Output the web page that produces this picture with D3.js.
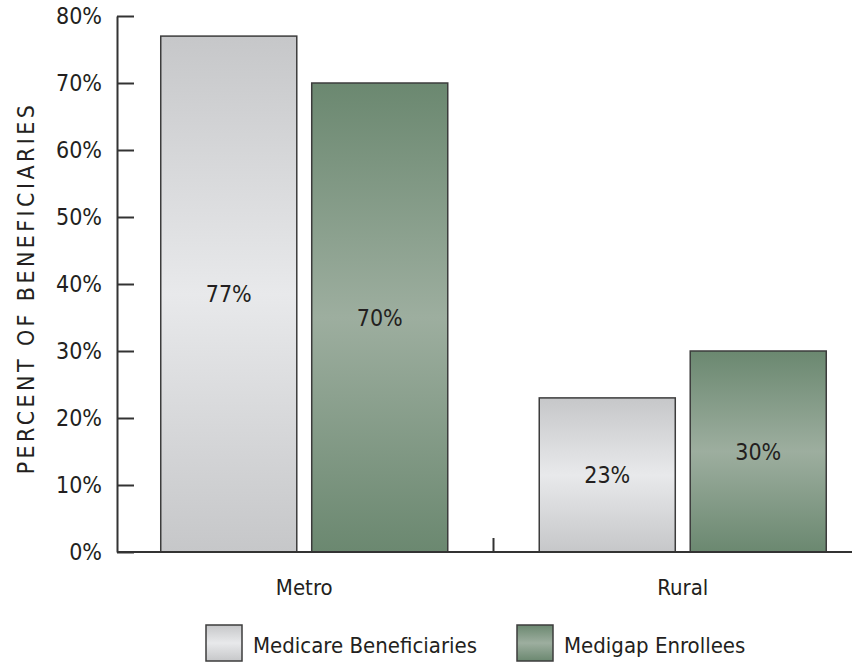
<!DOCTYPE html>
<html>
<head>
<meta charset="utf-8">
<script src="https://cdn.jsdelivr.net/npm/d3@7"></script>
<style>
  body { margin: 0; background: #fff; }
  svg text { font-family: "DejaVu Sans Condensed", "DejaVu Sans", sans-serif; font-stretch: condensed; fill: #231f20; }
</style>
</head>
<body>
<div id="chart"></div>
<script>
const categories = ["Metro", "Rural"];
const series = ["Medicare Beneficiaries", "Medigap Enrollees"];
const medicare = [77, 23];
const medigap = [70, 30];
const yTicks = [0, 10, 20, 30, 40, 50, 60, 70, 80];

const width = 864, height = 662;
const svg = d3.select("#chart").append("svg")
    .attr("width", width).attr("height", height);

const defs = svg.append("defs");
function grad(id, edge, mid) {
    const g = defs.append("linearGradient").attr("id", id)
        .attr("x1", 0).attr("y1", 0).attr("x2", 0).attr("y2", 1);
    g.append("stop").attr("offset", "0%").attr("stop-color", edge);
    g.append("stop").attr("offset", "50%").attr("stop-color", mid);
    g.append("stop").attr("offset", "100%").attr("stop-color", edge);
}
grad("g0", "#c6c7c9", "#e8e9eb");
grad("g1", "#6b8870", "#9dae9f");
const fills = ["url(#g0)", "url(#g1)"];

const y = d3.scaleLinear().domain([0, 80]).range([552, 16]);
const x0 = d3.scaleBand().domain(categories).range([115, 872]);
const x1 = d3.scaleBand().domain(series).range([0, x0.bandwidth()])
    .paddingInner(0.099).paddingOuter(0.303);

const rows = categories.map((c, i) => ({ cat: c, vals: [medicare[i], medigap[i]] }));

// bars
const grp = svg.append("g").selectAll("g").data(rows).join("g")
    .attr("transform", d => `translate(${x0(d.cat)},0)`);
grp.selectAll("rect").data(d => d.vals.map((v, j) => ({ v, s: series[j], j })))
    .join("rect")
    .attr("x", d => x1(d.s))
    .attr("y", d => y(d.v))
    .attr("width", x1.bandwidth())
    .attr("height", d => y(0) - y(d.v))
    .attr("fill", d => fills[d.j])
    .attr("stroke", "#3c3c3c").attr("stroke-width", 1.5);
grp.selectAll("text").data(d => d.vals.map((v, j) => ({ v, s: series[j] })))
    .join("text")
    .attr("x", d => x1(d.s) + x1.bandwidth() / 2)
    .attr("y", d => (y(d.v) + y(0)) / 2)
    .attr("dy", "0.36em")
    .attr("text-anchor", "middle")
    .style("font-size", "23px")
    .text(d => d.v + "%");

// y axis
const yAxis = svg.append("g").attr("transform", "translate(117,0)")
    .call(d3.axisLeft(y).tickValues(yTicks).tickFormat(d => d + "%")
        .tickSize(-17).tickSizeOuter(0).tickPadding(15));
yAxis.selectAll("path, line").attr("stroke", "#333").attr("stroke-width", 2);
yAxis.selectAll("text").style("font-size", "23px").attr("fill", "#231f20");

// baseline + divider
svg.append("line").attr("x1", 117).attr("x2", 852)
    .attr("y1", y(0)).attr("y2", y(0))
    .attr("stroke", "#333").attr("stroke-width", 2);
svg.append("line")
    .attr("x1", x0("Rural")).attr("x2", x0("Rural"))
    .attr("y1", y(0)).attr("y2", y(0) - 14)
    .attr("stroke", "#333").attr("stroke-width", 2);

// x labels
const xAxis = svg.append("g").attr("transform", `translate(0,${y(0)})`)
    .call(d3.axisBottom(x0).tickSize(0).tickPadding(27));
xAxis.select(".domain").remove();
xAxis.selectAll("text").style("font-size", "22px").attr("fill", "#231f20");

// y title
svg.append("text")
    .attr("transform", "translate(34,288) rotate(-90)")
    .attr("text-anchor", "middle")
    .style("font-size", "23px")
    .style("letter-spacing", "3.4px")
    .text("PERCENT OF BENEFICIARIES");

// legend
const legX = [206, 517];
const leg = svg.append("g").selectAll("g").data(series).join("g")
    .attr("transform", (d, i) => `translate(${legX[i]},625)`);
leg.append("rect").attr("width", 36).attr("height", 36)
    .attr("fill", (d, i) => fills[i])
    .attr("stroke", "#3c3c3c").attr("stroke-width", 1.5);
leg.append("text").attr("x", 47).attr("y", 28)
    .style("font-size", "22px").text(d => d);
</script>
</body>
</html>
